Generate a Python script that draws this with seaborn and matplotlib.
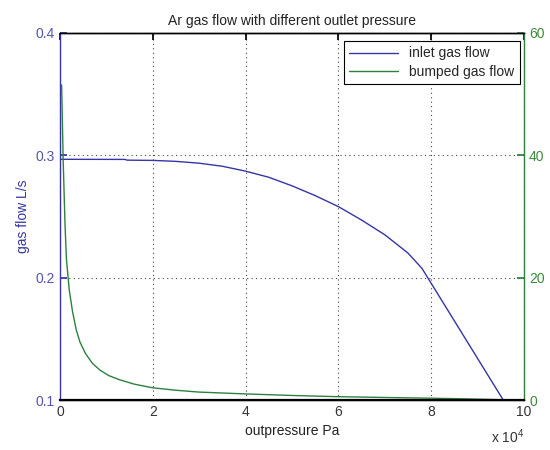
import matplotlib
matplotlib.use('Agg')
import matplotlib.pyplot as plt
from matplotlib.ticker import FuncFormatter
import seaborn as sns
import pandas as pd

sns.set_theme(style='white')
plt.rcParams['font.family'] = ['Liberation Sans', 'DejaVu Sans']
plt.rcParams['mathtext.default'] = 'regular'

# outlet pressure (Pa) vs inlet gas flow (L/s)
inlet_p = [0, 14000, 14500, 20000, 25000, 30000, 35000, 40000, 45000, 50000,
           55000, 60000, 65000, 70000, 75000, 78000, 95500]
inlet_flow = [0.2967, 0.2966, 0.2960, 0.2958, 0.2950, 0.2935, 0.2910, 0.2870,
              0.2820, 0.2750, 0.2670, 0.2580, 0.2470, 0.2350, 0.2200, 0.2075, 0.1000]

# outlet pressure (Pa) vs bumped gas flow
bumped_p = [360, 700, 1100, 1400, 2000, 2700, 3500, 4300, 5500, 7000, 8600,
            10500, 12900, 16000, 20000, 25000, 30000, 40000, 50000, 60000,
            70000, 80000, 87000, 95500]
bumped_flow = [51.5, 39.0, 28.5, 23.0, 18.0, 14.5, 11.5, 9.5, 7.6, 6.0, 4.9,
               4.0, 3.3, 2.6, 2.0, 1.6, 1.3, 1.0, 0.75, 0.55,
               0.42, 0.30, 0.20, 0.05]

blue = '#3535a5'
green = '#2d8040'

inlet = pd.DataFrame({'p': inlet_p, 'flow': inlet_flow})
bumped = pd.DataFrame({'p': bumped_p, 'flow': bumped_flow})

fig = plt.figure(figsize=(5.5, 4.5), dpi=100)
ax1 = fig.add_axes([0.109, 0.111, 0.844, 0.816])
ax2 = ax1.twinx()

sns.lineplot(data=inlet, x='p', y='flow', ax=ax1, color=blue, linewidth=1,
             sort=False, estimator=None, label='inlet gas flow', legend=False)
sns.lineplot(data=bumped, x='p', y='flow', ax=ax2, color=green, linewidth=1,
             sort=False, estimator=None, label='bumped gas flow', legend=False)

ax1.set_xlim(0, 100000)
ax1.set_ylim(0.1, 0.4)
ax1.set_yticks([0.1, 0.2, 0.3, 0.4])
ax2.set_ylim(0, 60)
ax2.set_yticks([0, 20, 40, 60])
ax1.set_xticks([0, 20000, 40000, 60000, 80000, 100000])
ax1.xaxis.set_major_formatter(FuncFormatter(lambda v, pos: f'{v / 1e4:g}'))
ax1.annotate('x 10$^{4}$', xy=(1.0, -0.1), xycoords='axes fraction',
             ha='right', va='center', fontsize=10, color='#333333')

ax1.grid(True, linestyle=(0, (1, 3)), color='#444444', linewidth=0.8)

ax1.set_title('Ar gas flow with different outlet pressure', fontsize=10, color='#222222')
ax1.set_xlabel('outpressure Pa', fontsize=10, color='#222222')
ax1.set_ylabel('gas flow L/s', fontsize=10, color=blue)
ax2.set_ylabel('')

for ax in (ax1, ax2):
    for s in ax.spines.values():
        s.set_linewidth(1)
        s.set_color('black')
ax1.spines['left'].set_color(blue)
ax2.spines['left'].set_visible(False)
ax1.spines['right'].set_visible(False)
ax2.spines['right'].set_color(green)
ax2.spines['bottom'].set_linewidth(1.6)

ax1.tick_params(axis='x', direction='in', top=True, length=5, labelsize=10,
                labelcolor='#333333', color='black')
ax1.tick_params(axis='y', direction='in', length=5, labelsize=10,
                labelcolor='#5555b0', color=blue)
ax2.tick_params(axis='y', direction='in', length=5, labelsize=10,
                labelcolor='#3a8a3a', color=green, right=True)

h1, l1 = ax1.get_legend_handles_labels()
h2, l2 = ax2.get_legend_handles_labels()
leg = ax2.legend(h1 + h2, l1 + l2, loc='upper right', bbox_to_anchor=(0.99, 0.978),
                 borderaxespad=0, fancybox=False, framealpha=1, edgecolor='black',
                 fontsize=10, handlelength=3.5, borderpad=0.4, labelspacing=0.3)
leg.get_frame().set_linewidth(0.8)

fig.savefig('out.png', dpi=100)
